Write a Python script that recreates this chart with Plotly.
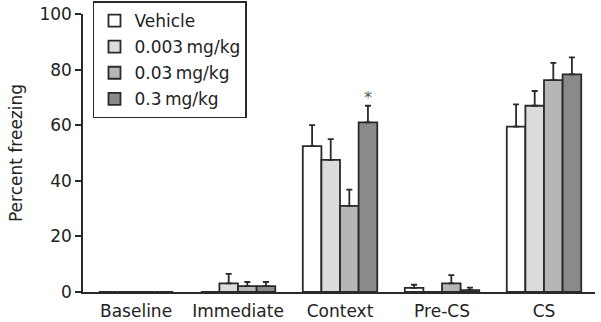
import plotly.graph_objects as go

categories = ["Baseline", "Immediate", "Context", "Pre-CS", "CS"]
series_names = ["Vehicle", "0.003\u2009mg/kg", "0.03\u2009mg/kg", "0.3\u2009mg/kg"]

vehicle_mean = [0, 0, 52.5, 1.5, 59.5]
vehicle_se = [None, None, 7.5, 1.1, 8.0]
d0003_mean = [0, 3.1, 47.5, 0, 67.0]
d0003_se = [None, 3.4, 7.5, None, 5.3]
d003_mean = [0, 2.1, 31.0, 3.1, 76.2]
d003_se = [None, 1.5, 5.8, 3.0, 6.2]
d03_mean = [0, 2.1, 61.0, 0.7, 78.3]
d03_se = [None, 1.5, 6.0, 0.9, 6.1]

means = [vehicle_mean, d0003_mean, d003_mean, d03_mean]
ses = [vehicle_se, d0003_se, d003_se, d03_se]
colors = ["#ffffff", "#dcdcdc", "#b6b6b6", "#8a8a8a"]

y_ticks = [0, 20, 40, 60, 80, 100]

ink = "#2a2a2a"
font_family = "DejaVu Sans, Verdana, sans-serif"

fig = go.Figure()
for name, m, s, c in zip(series_names, means, ses, colors):
    fig.add_trace(go.Bar(
        x=categories, y=m, name=name,
        marker=dict(color=c, line=dict(color=ink, width=1.8)),
        error_y=dict(type="data", array=s, symmetric=False,
                     arrayminus=[0] * len(s), color=ink, thickness=1.8, width=3),
        legendgroup=name,
    ))

fig.add_annotation(x="Context", y=70, xshift=28, text="*", showarrow=False,
                   font=dict(size=16, color="#555555", family=font_family))

fig.update_layout(
    width=601, height=322,
    margin=dict(l=83, r=6, t=14, b=29.5, autoexpand=False),
    paper_bgcolor="white", plot_bgcolor="white",
    barmode="group", bargap=0.27, bargroupgap=0,
    font=dict(family=font_family, size=17, color="#222222"),
    showlegend=True,
    legend=dict(x=0.0195, y=1.045, xanchor="left", yanchor="top",
                bgcolor="white", bordercolor=ink, borderwidth=1.5,
                font=dict(size=17), traceorder="grouped", tracegroupgap=1,
                itemwidth=30),
    xaxis=dict(range=[-0.52, 4.5], showline=True, linecolor=ink, linewidth=1.5,
               ticks="", showgrid=False, zeroline=False, automargin=False,
               tickfont=dict(size=17), ticklabelstandoff=3),
    yaxis=dict(range=[0, 100], tickvals=y_ticks, showline=True, linecolor=ink,
               linewidth=1.5, ticks="outside", ticklen=6, tickwidth=1.5,
               tickcolor=ink, showgrid=False, zeroline=False, automargin=False,
               title=dict(text="Percent freezing", font=dict(size=17), standoff=12),
               tickfont=dict(size=17)),
)

fig.write_html("out.html", config={"displayModeBar": False},
               post_script="document.body.style.margin='0px';")
